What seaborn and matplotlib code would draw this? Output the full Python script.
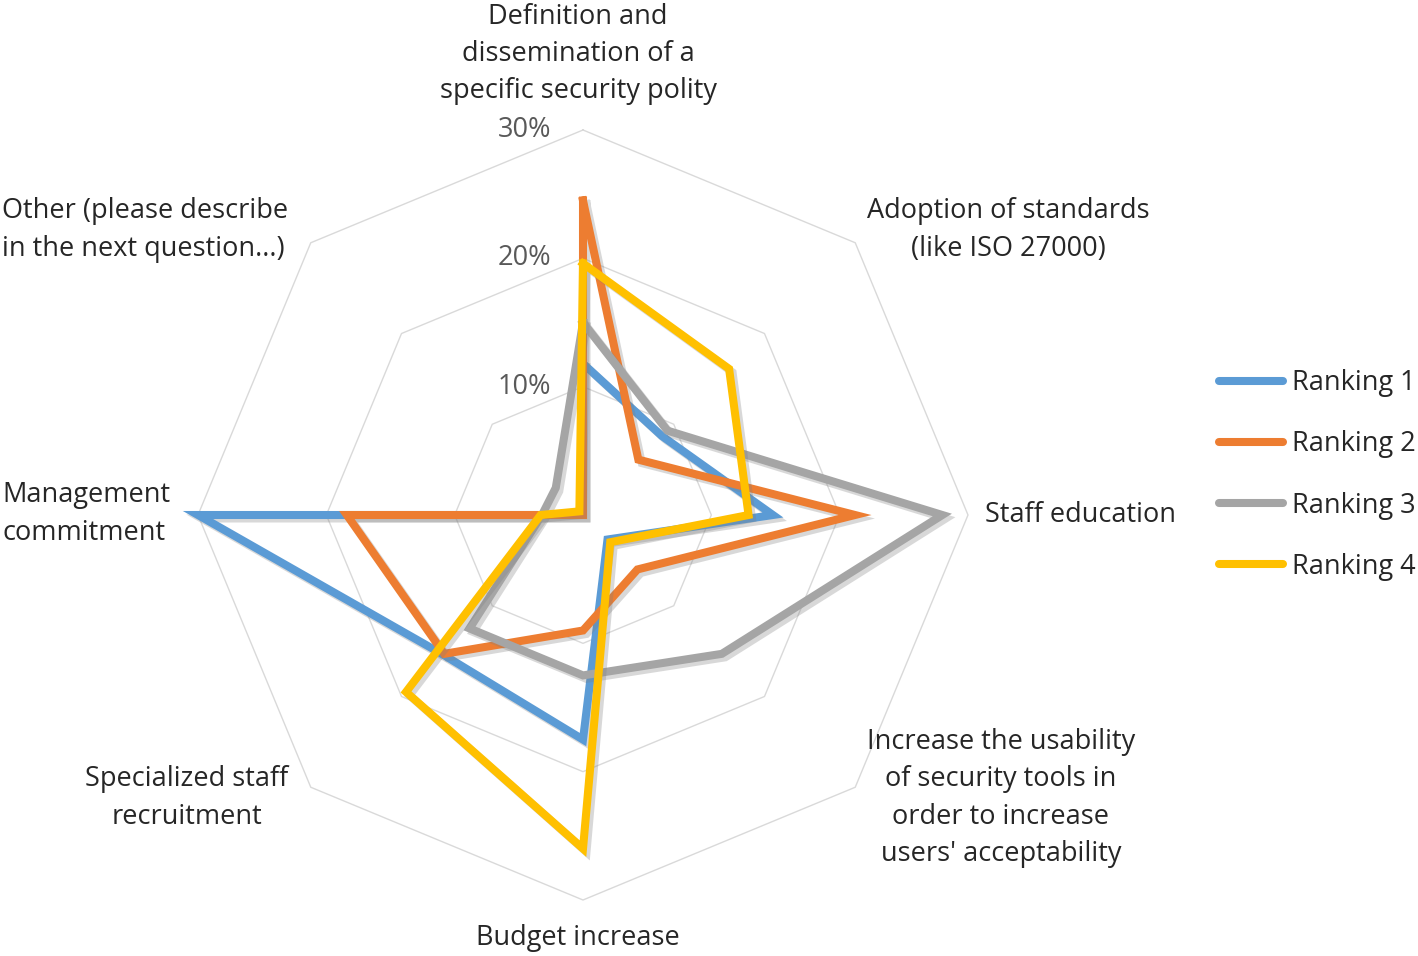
import numpy as np
import pandas as pd
import matplotlib
matplotlib.use("Agg")
import matplotlib.pyplot as plt
import matplotlib.patheffects as pe
import seaborn as sns

# Categories clockwise from the top
categories = [
    "Definition and\ndissemination of a\nspecific security polity",
    "Adoption of standards\n(like ISO 27000)",
    "Staff education",
    "Increase the usability\nof security tools in\norder to increase\nusers' acceptability",
    "Budget increase",
    "Specialized staff\nrecruitment",
    "Management\ncommitment",
    "Other (please describe\nin the next question...)",
]

# Percentages
ranking_1 = [11.8, 8.7, 14.8, 2.7, 17.5, 15.4, 30.0, 0.0]
ranking_2 = [24.5, 6.1, 21.2, 6.0, 9.0, 15.3, 18.4, 0.0]
ranking_3 = [15.0, 9.3, 28.0, 15.3, 12.5, 12.5, 3.2, 3.0]
ranking_4 = [19.6, 16.1, 12.9, 3.0, 26.0, 19.5, 3.3, 0.4]

series_names = ["Ranking 1", "Ranking 2", "Ranking 3", "Ranking 4"]
series_values = [ranking_1, ranking_2, ranking_3, ranking_4]
colors = ["#5B9BD5", "#ED7D31", "#A5A5A5", "#FFC000"]
ring_levels = [10, 20, 30]

n = len(categories)
angles = np.linspace(0, 2 * np.pi, n, endpoint=False)

# long table, each loop closed back to its first point
rows = []
for name, vals in zip(series_names, series_values):
    for k in range(n + 1):
        rows.append({"theta": angles[k % n] if k < n else 2 * np.pi,
                     "value": vals[k % n] / 100, "series": name, "order": k})
df = pd.DataFrame(rows)

W, H = 1418, 956
fig = plt.figure(figsize=(W / 100, H / 100), dpi=100)
cx, cy, R = 583, 515, 385
ax = fig.add_axes([(cx - R) / W, (H - cy - R) / H, 2 * R / W, 2 * R / H],
                  projection="polar")
ax.set_theta_offset(np.pi / 2)
ax.set_theta_direction(-1)
ax.set_ylim(0, 0.30)
ax.grid(False)
ax.spines["polar"].set_visible(False)
ax.set_xticks([])
ax.set_yticks([])
ax.patch.set_alpha(0)

# octagonal grid rings
ring_theta = np.append(angles, 2 * np.pi)
for lvl in ring_levels:
    ax.plot(ring_theta, [lvl / 100] * (n + 1), color="#D9D9D9", lw=1.0,
            zorder=1, clip_on=False)

shadow = [pe.SimpleLineShadow(offset=(2.5, -2.5), shadow_color="#7f7f7f",
                              alpha=0.3, rho=1.0),
          pe.Normal()]

sns.lineplot(data=df, x="theta", y="value", hue="series", units="series",
             estimator=None, sort=False, palette=colors, linewidth=5.8,
             ax=ax, legend=False, clip_on=False, zorder=3,
             path_effects=shadow, solid_joinstyle="miter")
ax.set_xlabel("")
ax.set_ylabel("")

font = "Open Sans"
fs = 19.5

# radial tick labels to the left of the top spoke
for lvl in ring_levels:
    ypx = cy - R * lvl / 30
    fig.text(551 / W, 1 - ypx / H, f"{lvl}%", ha="right", va="center",
             fontsize=fs, color="#595959", family=font)

# category labels
label_pos = [
    (578, 54, "center", "center"),
    (1008, 230, "center", "center"),
    (985, 515, "left", "center"),
    (1001, 798, "center", "center"),
    (578, 938, "center", "center"),
    (187, 798, "center", "center"),
    (2, 514, "left", "center"),
    (2, 230, "left", "center"),
]
for text, (x, y, ha, va) in zip(categories, label_pos):
    fig.text(x / W, 1 - y / H, text, ha=ha, va=va, fontsize=fs,
             color="#262626", family=font, linespacing=1.45,
             multialignment="center" if ha == "center" else "left")

# legend
handles = [plt.Line2D([], [], color=c, lw=5.8, solid_capstyle="round")
           for c in colors]
fig.legend(handles, series_names, loc="center left",
           bbox_to_anchor=(1219 / W, 1 - 475 / H), frameon=False,
           prop={"family": font, "size": fs}, handlelength=2.37,
           handletextpad=0.33, labelspacing=1.22, borderpad=0,
           borderaxespad=0, labelcolor="#262626")

fig.savefig("out.png", dpi=100, facecolor="white")
